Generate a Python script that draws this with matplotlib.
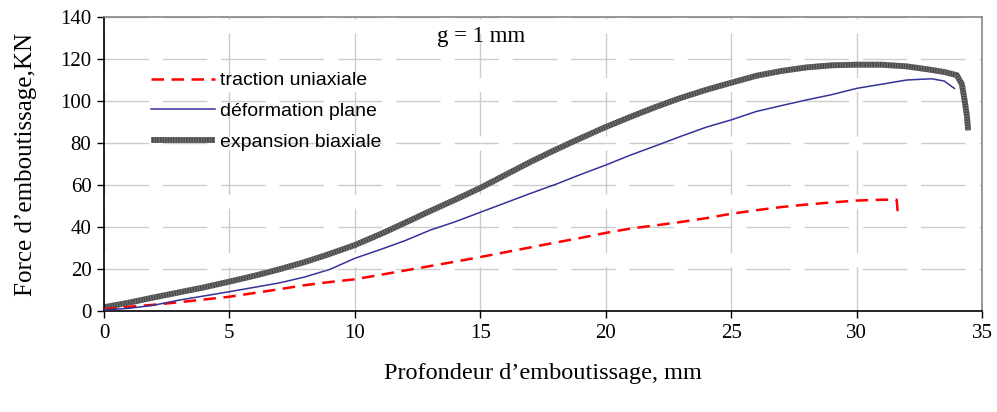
import numpy as np
import matplotlib
matplotlib.use("Agg")
import matplotlib.pyplot as plt

# profondeur (mm) / force (KN)
x_traction = [0, 1, 2, 3, 4, 5, 6, 7, 8, 9, 10, 11, 12, 13, 14, 15, 16, 17, 18, 19,
              20, 21, 22, 23, 24, 25, 26, 27, 28, 29, 30, 31, 31.6, 31.65]
f_traction = [0.8, 2.0, 3.0, 4.2, 5.5, 6.8, 8.6, 10.4, 12.3, 13.8, 15.1, 17.2, 19.3, 21.4,
              23.5, 25.7, 28.0, 30.3, 32.6, 34.8, 37.2, 39.3, 40.8, 42.4, 44.2, 46.3,
              48.0, 49.5, 50.7, 51.7, 52.6, 53.0, 53.0, 46.0]

x_plane = [0, 1, 2, 3, 4, 5, 6, 7, 8, 9, 10, 11, 12, 13, 14, 15, 16, 17, 18, 19,
           20, 21, 22, 23, 24, 25, 26, 27, 28, 29, 30, 31, 32, 33, 33.5, 33.9]
f_plane = [0.5, 1.3, 2.8, 5.2, 7.2, 9.2, 11.3, 13.4, 16.2, 19.8, 25.1, 29.2, 33.5, 38.5,
           42.5, 47.0, 51.5, 56.0, 60.3, 65.0, 69.5, 74.3, 78.7, 83.2, 87.5, 91.0,
           95.0, 97.8, 100.5, 103.0, 106.0, 108.0, 110.0, 110.6, 109.5, 106.0]

x_biax = [0, 1, 2, 3, 4, 5, 6, 7, 8, 9, 10, 11, 12, 13, 14, 15, 16, 17, 18, 19,
          20, 21, 22, 23, 24, 25, 26, 27, 28, 29, 30, 31, 32, 33, 33.5, 34,
          34.2, 34.3, 34.4, 34.45]
f_biax = [1.8, 4.0, 6.5, 8.9, 11.3, 14.0, 16.8, 19.9, 23.3, 27.2, 31.4, 36.5, 42.0, 47.6,
          53.0, 58.6, 64.8, 71.0, 76.8, 82.3, 87.6, 92.5, 97.2, 101.5, 105.3, 108.7,
          112.0, 114.3, 116.0, 117.0, 117.3, 117.3, 116.5, 114.8, 113.8, 112.3,
          108.0, 101.0, 93.0, 86.0]

serif = "Liberation Serif"
sans = "Liberation Sans"

fig = plt.figure(figsize=(9.97, 4.12), dpi=100)
ax = fig.add_axes([0.1043, 0.2451, 0.8806, 0.7136])

l1, = ax.plot(x_traction, f_traction, color="#ff0000", lw=1.8, dashes=(5, 3), zorder=3)
l2, = ax.plot(x_plane, f_plane, color="#333399", lw=1.1, zorder=3)
# trait épais "rayé" pour l'expansion biaxiale
l3a, = ax.plot(x_biax, f_biax, color="#4a4a4a", lw=4.2, zorder=2, solid_capstyle="butt")
l3b, = ax.plot(x_biax, f_biax, color="#7c7c7c", lw=4.2, dashes=(0.15, 0.3), zorder=2,
               dash_capstyle="butt")

ax.set_xlim(0, 35)
ax.set_ylim(0, 140)
ax.set_xticks(np.arange(0, 36, 5))
ax.set_yticks(np.arange(0, 141, 20))
ax.grid(True, color="#cccccc", lw=1.0, dashes=(32, 10))

for s in ["top", "right"]:
    ax.spines[s].set_color("#888888")
    ax.spines[s].set_linewidth(1.2)
for s in ["left", "bottom"]:
    ax.spines[s].set_color("black")
    ax.spines[s].set_linewidth(1.2)
ax.tick_params(direction="out", length=5, width=1.0, pad=4)
for lab in ax.get_xticklabels() + ax.get_yticklabels():
    lab.set_fontfamily(serif)
    lab.set_fontsize(15)

ax.set_xlabel("Profondeur d’emboutissage, mm", fontfamily=serif, fontsize=17.5, labelpad=15)
ax.set_ylabel("Force d’emboutissage,KN", fontfamily=serif, fontsize=18, labelpad=17)

ax.text(0.429, 0.935, "g = 1 mm", transform=ax.transAxes, ha="center", va="center",
        fontfamily=serif, fontsize=16.5)

ax.legend([l1, l2, (l3a, l3b)],
          ["traction uniaxiale", "déformation plane", "expansion biaxiale"],
          loc="upper left", bbox_to_anchor=(0.045, 0.84), frameon=False,
          prop={"family": sans, "size": 14}, handlelength=3.3, handletextpad=0.25,
          labelspacing=0.68, borderaxespad=0)

fig.savefig("out.png", dpi=100)
